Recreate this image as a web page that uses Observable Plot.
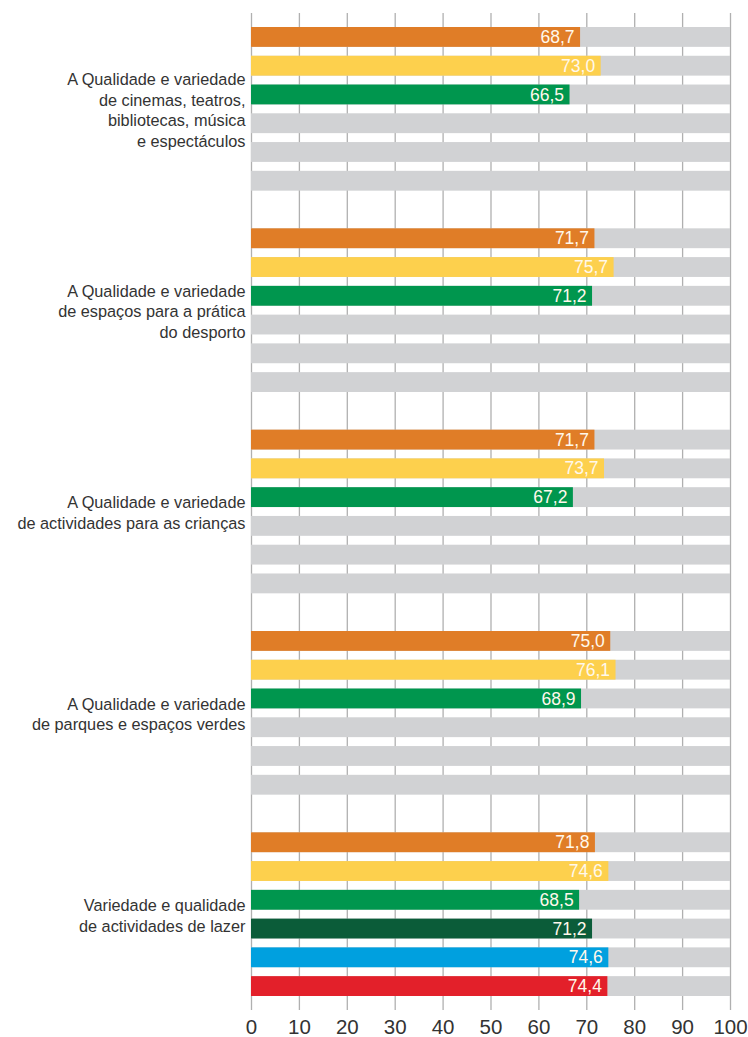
<!DOCTYPE html>
<html>
<head>
<meta charset="utf-8">
<script src="https://cdn.jsdelivr.net/npm/d3@7"></script>
<script src="https://cdn.jsdelivr.net/npm/@observablehq/plot@0.6"></script>
<style>
  html, body { margin: 0; padding: 0; background: #fff; }
  #chart svg { display: block; }
</style>
</head>
<body>
<div id="chart"></div>
<script>
// ---- Data ----
const categories = [
  "A Qualidade e variedade\nde cinemas, teatros,\nbibliotecas, música\ne espectáculos",
  "A Qualidade e variedade\nde espaços para a prática\ndo desporto",
  "A Qualidade e variedade\nde actividades para as crianças",
  "A Qualidade e variedade\nde parques e espaços verdes",
  "Variedade e qualidade\nde actividades de lazer"
];
const seriesNames = ["s1", "s2", "s3", "s4", "s5", "s6"];
const seriesColors = ["#e07d27", "#fdd04d", "#00964e", "#0b5c39", "#00a0df", "#e3202a"];
const values = [
  [68.7, 73.0, 66.5],
  [71.7, 75.7, 71.2],
  [71.7, 73.7, 67.2],
  [75.0, 76.1, 68.9],
  [71.8, 74.6, 68.5, 71.2, 74.6, 74.4]
];
const xTicks = [0, 10, 20, 30, 40, 50, 60, 70, 80, 90, 100];

// ---- Layout ----
const width = 748, height = 1037;
const marginTop = 13, marginBottom = 27, marginLeft = 251, marginRight = 18;
const padInner = 0.31, padOuter = 0.487;

// ---- Build tables ----
const key = (g, r) => `${g}-${r}`;
const yDomain = [];
categories.forEach((c, g) => {
  seriesNames.forEach((s, r) => yDomain.push(key(g, r)));
  if (g < categories.length - 1) yDomain.push(`${g}-gap`);
});
const bgRows = [];
const bars = [];
categories.forEach((c, g) => {
  seriesNames.forEach((s, r) => {
    bgRows.push({key: key(g, r), value: 100});
    if (values[g][r] != null) bars.push({key: key(g, r), value: values[g][r], series: s});
  });
});
const labels = categories.map((c, g) => ({key: key(g, 2), text: c}));

const step = d3.scaleBand().domain(yDomain)
  .range([marginTop, height - marginBottom])
  .paddingInner(padInner).paddingOuter(padOuter).step();

const fmt = v => d3.format(".1f")(v).replace(".", ",");

const chart = Plot.plot({
  width, height, marginTop, marginBottom, marginLeft, marginRight,
  style: {fontFamily: "'Liberation Sans', Arial, sans-serif", background: "#fff"},
  x: {domain: [0, 100], axis: null, label: null},
  y: {type: "band", domain: yDomain, paddingInner: padInner, paddingOuter: padOuter, round: false, axis: null},
  color: {domain: seriesNames, range: seriesColors},
  marks: [
    Plot.ruleX(xTicks, {stroke: "#b0b0b0", strokeWidth: 1.3}),
    Plot.barX(bgRows, {x1: 0, x2: "value", y: "key", fill: "#d1d2d4"}),
    Plot.barX(bars, {x1: 0, x2: "value", y: "key", fill: "series"}),
    Plot.text(bars, {x: "value", y: "key", text: d => fmt(d.value), textAnchor: "end", dx: -6,
      fill: "#fff8ec", fontSize: 17.5}),
    Plot.text(labels, {x: 0, y: "key", text: "text", textAnchor: "end", dx: -6, dy: step / 2,
      lineHeight: 1.27, fontSize: 16.3, fill: "#333"}),
    Plot.axisX(xTicks, {tickSize: 0, tickPadding: 9, fontSize: 20.5, fill: "#333", label: null,
      tickFormat: d => String(d)})
  ]
});
document.getElementById("chart").appendChild(chart);
</script>
</body>
</html>
